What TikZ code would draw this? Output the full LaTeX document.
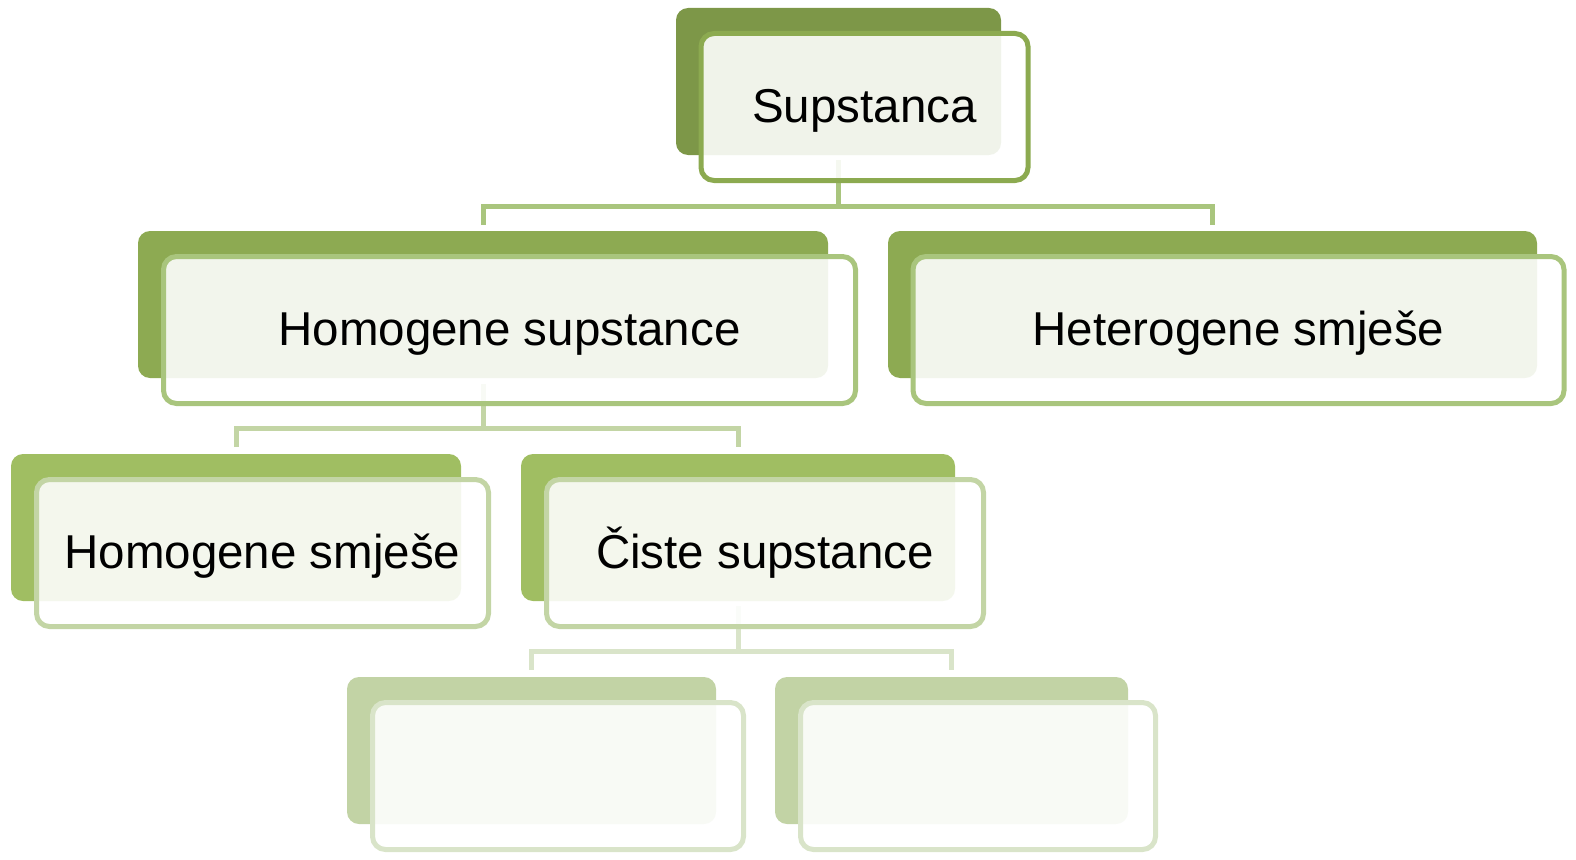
\documentclass[tikz,border=0pt]{standalone}
\usepackage{fontspec}
\setmainfont{Liberation Sans}
\begin{document}
\definecolor{backA}{HTML}{7D9748}
\definecolor{lineA}{HTML}{8CAA50}
\definecolor{backB}{HTML}{8DAA52}
\definecolor{lineB}{HTML}{A9C57D}
\definecolor{backC}{HTML}{A0BE62}
\definecolor{lineC}{HTML}{C3D5A5}
\definecolor{backD}{HTML}{C2D3A5}
\definecolor{lineD}{HTML}{D9E4C9}
\begin{tikzpicture}[x=1pt,y=1pt,
  backbox/.style={fill=#1, draw=none, rounded corners=12pt, inner sep=0pt, outer sep=0pt},
  frontbox/.style={draw=#1, line width=5pt, fill=white, fill opacity=0.89,
    rounded corners=13pt, inner sep=0pt, outer sep=0pt},
  label/.style={anchor=base, text=black, inner sep=0pt,
    font=\fontsize{47.5}{57}\selectfont},
  conn/.style={draw=#1, line width=5pt}]
\useasboundingbox (0,0) rectangle (1576,-859);

% back panels
\node[backbox=backA, minimum width=325pt, minimum height=147pt] (b0) at (838.5,-81.5) {};
\node[backbox=backB, minimum width=690pt, minimum height=147pt] (b1) at (483,-304.5) {};
\node[backbox=backB, minimum width=649pt, minimum height=147pt] (b2) at (1212.5,-304.5) {};
\node[backbox=backC, minimum width=450pt, minimum height=147pt] (b3) at (236,-527.5) {};
\node[backbox=backC, minimum width=434pt, minimum height=147pt] (b4) at (738,-527.5) {};
\node[backbox=backD, minimum width=369pt, minimum height=147pt] (b5) at (531.5,-750.5) {};
\node[backbox=backD, minimum width=353pt, minimum height=147pt] (b6) at (951.5,-750.5) {};

% elbow connectors
\draw[conn=lineB] ([yshift=-5pt]b0.south) -- ++(0,-46pt) coordinate (j0);
\draw[conn=lineB] ([yshift=6pt]b1.north) |- (j0) -| ([yshift=6pt]b2.north);
\draw[conn=lineC] ([yshift=-6pt]b1.south) -- ++(0,-44pt) coordinate (j1);
\draw[conn=lineC] ([yshift=7pt]b3.north) |- (j1) -| ([yshift=7pt]b4.north);
\draw[conn=lineD] ([yshift=-5pt]b4.south) -- ++(0,-45pt) coordinate (j2);
\draw[conn=lineD] ([yshift=7pt]b5.north) |- (j2) -| ([yshift=7pt]b6.north);

% front frames
\node[frontbox=lineA, minimum width=327pt, minimum height=147pt] (f0) at (864.5,-107) {};
\node[frontbox=lineB, minimum width=692pt, minimum height=147pt] (f1) at (509.5,-330) {};
\node[frontbox=lineB, minimum width=651pt, minimum height=147pt] (f2) at (1238.5,-330) {};
\node[frontbox=lineC, minimum width=452pt, minimum height=147pt] (f3) at (262.5,-553) {};
\node[frontbox=lineC, minimum width=437pt, minimum height=147pt] (f4) at (765,-553) {};
\node[frontbox=lineD, minimum width=371pt, minimum height=147pt] (f5) at (558,-776) {};
\node[frontbox=lineD, minimum width=355pt, minimum height=147pt] (f6) at (978,-776) {};

% labels
\node[label] (t0) at ([yshift=-15pt]f0.center) {Supstanca};
\node[label] (t1) at ([yshift=-15pt]f1.center) {Homogene supstance};
\node[label] (t2) at ([yshift=-15pt]f2.center) {Heterogene smješe};
\node[label] (t3) at ([yshift=-15pt]f3.center) {Homogene smješe};
\node[label] (t4) at ([yshift=-15pt]f4.center) {Čiste supstance};
\end{tikzpicture}
\end{document}
